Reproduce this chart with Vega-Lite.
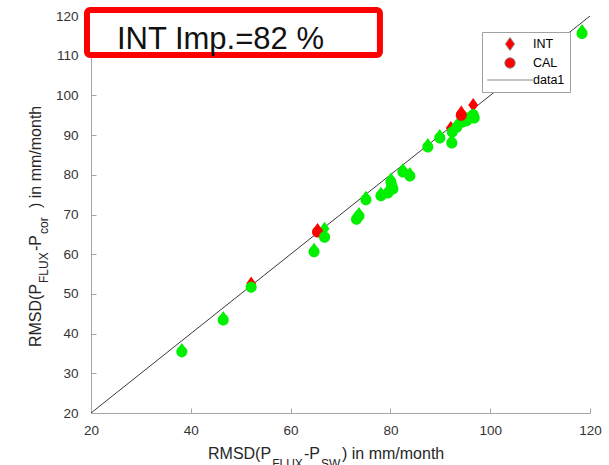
{
  "$schema": "https://vega.github.io/schema/vega-lite/v6.json",
  "width": 499,
  "height": 397,
  "autosize": {"type": "none"},
  "padding": {"left": 91, "top": 16, "right": 19, "bottom": 52},
  "background": "white",
  "datasets": {
    "pts": [
      {"x": 38.2, "y": 35.9, "type": "INT", "status": "improved"},
      {"x": 46.5, "y": 43.9, "type": "INT", "status": "improved"},
      {"x": 52.1, "y": 52.6, "type": "INT", "status": "not improved"},
      {"x": 64.7, "y": 61.1, "type": "INT", "status": "improved"},
      {"x": 65.4, "y": 66.1, "type": "INT", "status": "not improved"},
      {"x": 66.8, "y": 66.4, "type": "INT", "status": "improved"},
      {"x": 73.2, "y": 69.3, "type": "INT", "status": "improved"},
      {"x": 73.7, "y": 70.1, "type": "INT", "status": "improved"},
      {"x": 75.1, "y": 74.2, "type": "INT", "status": "improved"},
      {"x": 78.1, "y": 75.2, "type": "INT", "status": "improved"},
      {"x": 79.5, "y": 75.9, "type": "INT", "status": "improved"},
      {"x": 80.5, "y": 76.9, "type": "INT", "status": "improved"},
      {"x": 80.1, "y": 78.8, "type": "INT", "status": "improved"},
      {"x": 80.3, "y": 77.7, "type": "INT", "status": "improved"},
      {"x": 82.5, "y": 81.2, "type": "INT", "status": "improved"},
      {"x": 83.9, "y": 80.2, "type": "INT", "status": "improved"},
      {"x": 87.5, "y": 87.5, "type": "INT", "status": "improved"},
      {"x": 89.9, "y": 89.8, "type": "INT", "status": "improved"},
      {"x": 92.3, "y": 88.6, "type": "INT", "status": "improved"},
      {"x": 92.1, "y": 91.8, "type": "INT", "status": "not improved"},
      {"x": 93.3, "y": 92.5, "type": "INT", "status": "improved"},
      {"x": 94.5, "y": 93.8, "type": "INT", "status": "improved"},
      {"x": 95.3, "y": 94.1, "type": "INT", "status": "improved"},
      {"x": 94.2, "y": 95.7, "type": "INT", "status": "not improved"},
      {"x": 96.6, "y": 97.6, "type": "INT", "status": "not improved"},
      {"x": 96.8, "y": 94.9, "type": "INT", "status": "improved"},
      {"x": 118.4, "y": 116.2, "type": "INT", "status": "improved"},
      {"x": 38.2, "y": 35.4, "type": "CAL", "status": "improved"},
      {"x": 46.5, "y": 43.4, "type": "CAL", "status": "improved"},
      {"x": 52.1, "y": 51.7, "type": "CAL", "status": "improved"},
      {"x": 64.7, "y": 60.6, "type": "CAL", "status": "improved"},
      {"x": 65.4, "y": 65.6, "type": "CAL", "status": "not improved"},
      {"x": 66.8, "y": 64.3, "type": "CAL", "status": "improved"},
      {"x": 73.2, "y": 68.8, "type": "CAL", "status": "improved"},
      {"x": 73.7, "y": 69.6, "type": "CAL", "status": "improved"},
      {"x": 75.1, "y": 73.7, "type": "CAL", "status": "improved"},
      {"x": 78.1, "y": 74.7, "type": "CAL", "status": "improved"},
      {"x": 79.5, "y": 75.4, "type": "CAL", "status": "improved"},
      {"x": 80.5, "y": 76.4, "type": "CAL", "status": "improved"},
      {"x": 80.1, "y": 78.2, "type": "CAL", "status": "improved"},
      {"x": 80.3, "y": 77.2, "type": "CAL", "status": "improved"},
      {"x": 82.5, "y": 80.7, "type": "CAL", "status": "improved"},
      {"x": 83.9, "y": 79.7, "type": "CAL", "status": "improved"},
      {"x": 87.5, "y": 87.0, "type": "CAL", "status": "improved"},
      {"x": 89.9, "y": 89.3, "type": "CAL", "status": "improved"},
      {"x": 92.3, "y": 88.0, "type": "CAL", "status": "improved"},
      {"x": 92.4, "y": 90.8, "type": "CAL", "status": "improved"},
      {"x": 93.3, "y": 92.0, "type": "CAL", "status": "improved"},
      {"x": 94.5, "y": 93.3, "type": "CAL", "status": "improved"},
      {"x": 95.3, "y": 93.6, "type": "CAL", "status": "improved"},
      {"x": 94.2, "y": 95.0, "type": "CAL", "status": "not improved"},
      {"x": 96.6, "y": 95.1, "type": "CAL", "status": "improved"},
      {"x": 96.8, "y": 94.3, "type": "CAL", "status": "improved"},
      {"x": 118.4, "y": 115.6, "type": "CAL", "status": "improved"}
    ],
    "oneToOne": [
      {"x": 20, "y": 20, "series": "data1"},
      {"x": 120, "y": 120, "series": "data1"}
    ],
    "single": [{}]
  },
  "config": {
    "view": {"stroke": null},
    "axis": {
      "domainColor": "#a6a6a6",
      "tickColor": "#a6a6a6",
      "tickSize": -5,
      "grid": false,
      "labelFlush": false,
      "labelFont": "Liberation Sans",
      "labelFontSize": 13.5,
      "labelColor": "#333333"
    },
    "axisX": {"tickCount": 6, "labelPadding": 15},
    "axisY": {"tickCount": 11, "labelPadding": 18},
    "text": {"font": "Liberation Sans", "color": "#262626"}
  },
  "layer": [
    {
      "data": {"name": "oneToOne"},
      "mark": {"type": "line", "color": "#222222", "strokeWidth": 0.9},
      "encoding": {
        "x": {"field": "x", "type": "quantitative", "scale": {"domain": [20, 120], "nice": false, "zero": false}, "axis": {"title": null}},
        "y": {"field": "y", "type": "quantitative", "scale": {"domain": [20, 120], "nice": false, "zero": false}, "axis": {"title": null}}
      }
    },
    {
      "data": {"name": "pts"},
      "transform": [{"filter": "datum.type === 'INT'"}],
      "mark": {"type": "point", "filled": true, "size": 196, "opacity": 1, "strokeWidth": 0},
      "encoding": {
        "x": {"field": "x", "type": "quantitative", "axis": {"title": null}},
        "y": {"field": "y", "type": "quantitative", "axis": {"title": null}},
        "color": {"field": "status", "type": "nominal", "scale": {"domain": ["improved", "not improved"], "range": ["#00f000", "#ff0000"]}, "legend": null},
        "shape": {
          "field": "type", "type": "nominal",
          "scale": {"domain": ["INT", "CAL", "data1"], "range": ["M0,-1L0.7,0L0,1L-0.7,0Z", "M-0.8,0A0.8,0.8,0,1,1,0.8,0A0.8,0.8,0,1,1,-0.8,0Z", "M-3.5,0L3.5,0"]},
          "legend": {
            "orient": "none", "legendX": 391, "legendY": 16, "title": null,
            "padding": 5, "strokeColor": "#a0a0a0", "fillColor": "white",
            "symbolSize": 169, "symbolOffset": 16, "labelOffset": 16, "rowPadding": 2,
            "labelFont": "Liberation Sans", "labelFontSize": 12.5, "labelColor": "#000000",
            "labelExpr": "datum.label + '\u00a0\u00a0\u00a0\u00a0'",
            "symbolFillColor": "#ff0000",
            "symbolStrokeWidth": 1,
            "encode": {
              "symbols": {
                "fill": {"condition": {"test": "datum.value === 'data1'", "value": "transparent"}, "value": "#ff0000"},
                "stroke": {"condition": {"test": "datum.value === 'data1'", "value": "#000000"}, "value": "transparent"},
                "opacity": {"value": 1}
              }
            }
          }
        }
      }
    },
    {
      "data": {"name": "pts"},
      "transform": [{"filter": "datum.type === 'CAL'"}],
      "mark": {"type": "point", "filled": true, "size": 190, "opacity": 1, "strokeWidth": 0},
      "encoding": {
        "x": {"field": "x", "type": "quantitative", "axis": {"title": null}},
        "y": {"field": "y", "type": "quantitative", "axis": {"title": null}},
        "color": {"field": "status", "type": "nominal", "legend": null},
        "shape": {"field": "type", "type": "nominal"}
      }
    },
    {
      "data": {"name": "single"},
      "mark": {"type": "rect", "fill": "white", "stroke": "#ff0000", "strokeWidth": 6, "cornerRadius": 3},
      "encoding": {
        "x": {"datum": 19.2, "type": "quantitative", "axis": {"title": null}},
        "x2": {"datum": 77.9},
        "y": {"datum": 110.2, "type": "quantitative", "axis": {"title": null}},
        "y2": {"datum": 121.5}
      }
    },
    {
      "data": {"name": "single"},
      "mark": {"type": "text", "text": "INT Imp.=82 %", "fontSize": 31, "align": "left", "baseline": "alphabetic", "color": "#111111"},
      "encoding": {
        "x": {"datum": 25.2, "type": "quantitative", "axis": {"title": null}},
        "y": {"datum": 111.7, "type": "quantitative", "axis": {"title": null}}
      }
    },
    {
      "data": {"name": "single"},
      "mark": {"type": "text", "text": "RMSD(P", "fontSize": 16, "align": "left", "baseline": "alphabetic"},
      "encoding": {
        "x": {"datum": 43.45, "type": "quantitative", "axis": {"title": null}},
        "y": {"datum": 8.41, "type": "quantitative", "axis": {"title": null}}
      }
    },
    {
      "data": {"name": "single"},
      "mark": {"type": "text", "text": "FLUX", "fontSize": 12, "align": "left", "baseline": "alphabetic"},
      "encoding": {
        "x": {"datum": 56.31, "type": "quantitative", "axis": {"title": null}},
        "y": {"datum": 6.15, "type": "quantitative", "axis": {"title": null}}
      }
    },
    {
      "data": {"name": "single"},
      "mark": {"type": "text", "text": "-P", "fontSize": 16, "align": "left", "baseline": "alphabetic"},
      "encoding": {
        "x": {"datum": 62.69, "type": "quantitative", "axis": {"title": null}},
        "y": {"datum": 8.41, "type": "quantitative", "axis": {"title": null}}
      }
    },
    {
      "data": {"name": "single"},
      "mark": {"type": "text", "text": "SW", "fontSize": 12, "align": "left", "baseline": "alphabetic"},
      "encoding": {
        "x": {"datum": 66.09, "type": "quantitative", "axis": {"title": null}},
        "y": {"datum": 6.15, "type": "quantitative", "axis": {"title": null}}
      }
    },
    {
      "data": {"name": "single"},
      "mark": {"type": "text", "text": ") in mm/month", "fontSize": 16, "align": "left", "baseline": "alphabetic"},
      "encoding": {
        "x": {"datum": 70.3, "type": "quantitative", "axis": {"title": null}},
        "y": {"datum": 8.41, "type": "quantitative", "axis": {"title": null}}
      }
    },
    {
      "data": {"name": "single"},
      "mark": {"type": "text", "text": "RMSD(P", "fontSize": 16, "align": "left", "baseline": "alphabetic", "angle": 270},
      "encoding": {
        "x": {"datum": 9.88, "type": "quantitative", "axis": {"title": null}},
        "y": {"datum": 36.62, "type": "quantitative", "axis": {"title": null}}
      }
    },
    {
      "data": {"name": "single"},
      "mark": {"type": "text", "text": "FLUX", "fontSize": 12, "align": "left", "baseline": "alphabetic", "angle": 270},
      "encoding": {
        "x": {"datum": 11.38, "type": "quantitative", "axis": {"title": null}},
        "y": {"datum": 52.74, "type": "quantitative", "axis": {"title": null}}
      }
    },
    {
      "data": {"name": "single"},
      "mark": {"type": "text", "text": "-P", "fontSize": 16, "align": "left", "baseline": "alphabetic", "angle": 270},
      "encoding": {
        "x": {"datum": 9.88, "type": "quantitative", "axis": {"title": null}},
        "y": {"datum": 60.81, "type": "quantitative", "axis": {"title": null}}
      }
    },
    {
      "data": {"name": "single"},
      "mark": {"type": "text", "text": "cor", "fontSize": 12, "align": "left", "baseline": "alphabetic", "angle": 270},
      "encoding": {
        "x": {"datum": 11.38, "type": "quantitative", "axis": {"title": null}},
        "y": {"datum": 65.09, "type": "quantitative", "axis": {"title": null}}
      }
    },
    {
      "data": {"name": "single"},
      "mark": {"type": "text", "text": ") in mm/month", "fontSize": 16, "align": "left", "baseline": "alphabetic", "angle": 270},
      "encoding": {
        "x": {"datum": 9.88, "type": "quantitative", "axis": {"title": null}},
        "y": {"datum": 71.64, "type": "quantitative", "axis": {"title": null}}
      }
    }
  ]
}
